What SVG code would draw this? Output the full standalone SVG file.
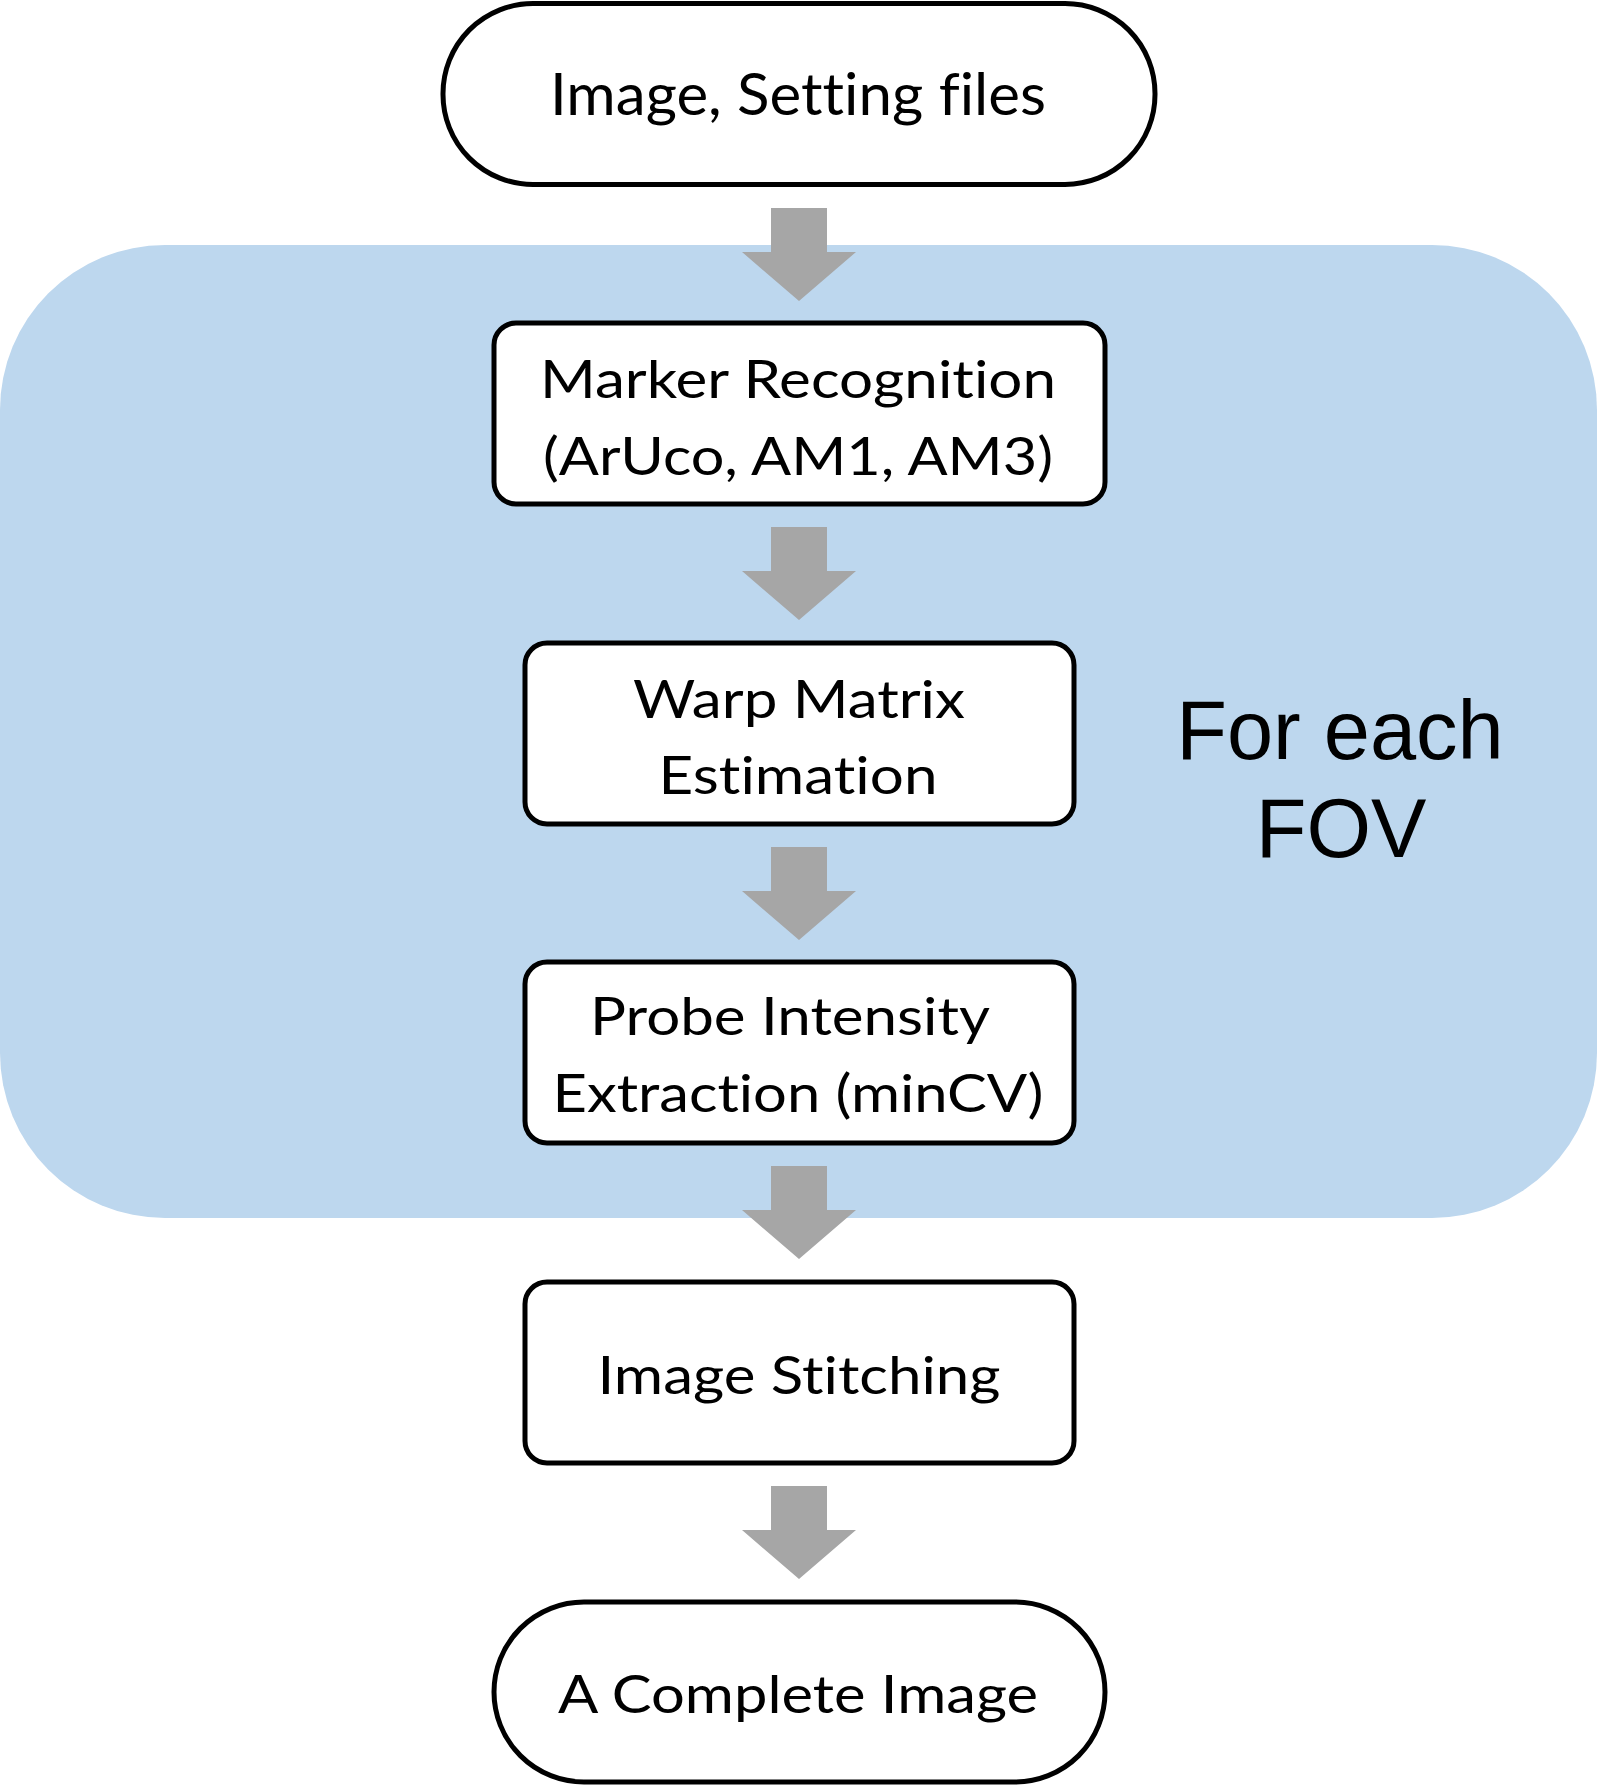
<svg xmlns="http://www.w3.org/2000/svg" xmlns:xlink="http://www.w3.org/1999/xlink" width="1616" height="1787" viewBox="0 0 1616 1787">
<style>
.node rect{fill:#FFFFFF;stroke:#000000;stroke-width:5}
.lbl{font-family:Lato,"Open Sans","Liberation Sans",sans-serif;font-size:53px;fill:#000000;text-anchor:middle;font-variant-ligatures:none;font-feature-settings:"liga" 0,"dlig" 0,"clig" 0}
.big{font-size:58px}
.fov{font-family:"Liberation Sans",Arial,sans-serif;font-size:83px;fill:#000000;text-anchor:middle}
.arrow{fill:#A6A6A6}
</style>
<defs>
<path id="blockArrow" d="M771,0 L827,0 L827,44 L856,44 L799,93 L742,44 L771,44 Z"/>
</defs>
<g id="loop-region">
<rect x="0" y="245" width="1597" height="973" rx="165" ry="165" fill="#BDD7EE"/>
<text class="fov" x="1340" y="759">For each</text>
<text class="fov" x="1341" y="857">FOV</text>
</g>
<g id="connectors" class="arrow">
<use xlink:href="#blockArrow" href="#blockArrow" transform="translate(0,208)"/>
<use xlink:href="#blockArrow" href="#blockArrow" transform="translate(0,527)"/>
<use xlink:href="#blockArrow" href="#blockArrow" transform="translate(0,847)"/>
<use xlink:href="#blockArrow" href="#blockArrow" transform="translate(0,1166)"/>
<use xlink:href="#blockArrow" href="#blockArrow" transform="translate(0,1486)"/>
</g>
<g id="node-input" class="node">
<rect x="443" y="3.5" width="712" height="181" rx="90" ry="90"/>
<text class="lbl big" x="798" y="115" textLength="496" lengthAdjust="spacingAndGlyphs">Image, Setting files</text>
</g>
<g id="node-marker" class="node">
<rect x="494" y="323" width="611" height="181" rx="22" ry="22"/>
<text class="lbl" x="798" y="398" textLength="516" lengthAdjust="spacingAndGlyphs">Marker Recognition</text>
<text class="lbl" x="798" y="475" textLength="510" lengthAdjust="spacingAndGlyphs">(ArUco, AM1, AM3)</text>
</g>
<g id="node-warp" class="node">
<rect x="525" y="643" width="549" height="181" rx="22" ry="22"/>
<text class="lbl" x="799" y="718" textLength="332" lengthAdjust="spacingAndGlyphs">Warp Matrix</text>
<text class="lbl" x="798" y="794" textLength="279" lengthAdjust="spacingAndGlyphs">Estimation</text>
</g>
<g id="node-probe" class="node">
<rect x="525" y="962" width="549" height="181" rx="22" ry="22"/>
<text class="lbl" x="790" y="1035" textLength="400" lengthAdjust="spacingAndGlyphs">Probe Intensity</text>
<text class="lbl" x="798" y="1112" textLength="491" lengthAdjust="spacingAndGlyphs">Extraction (minCV)</text>
</g>
<g id="node-stitch" class="node">
<rect x="525" y="1282" width="549" height="181" rx="22" ry="22"/>
<text class="lbl" x="799" y="1394" textLength="403" lengthAdjust="spacingAndGlyphs">Image Stitching</text>
</g>
<g id="node-output" class="node">
<rect x="494" y="1602" width="611" height="180" rx="90" ry="90"/>
<text class="lbl" x="798" y="1713" textLength="480" lengthAdjust="spacingAndGlyphs">A Complete Image</text>
</g>
</svg>
